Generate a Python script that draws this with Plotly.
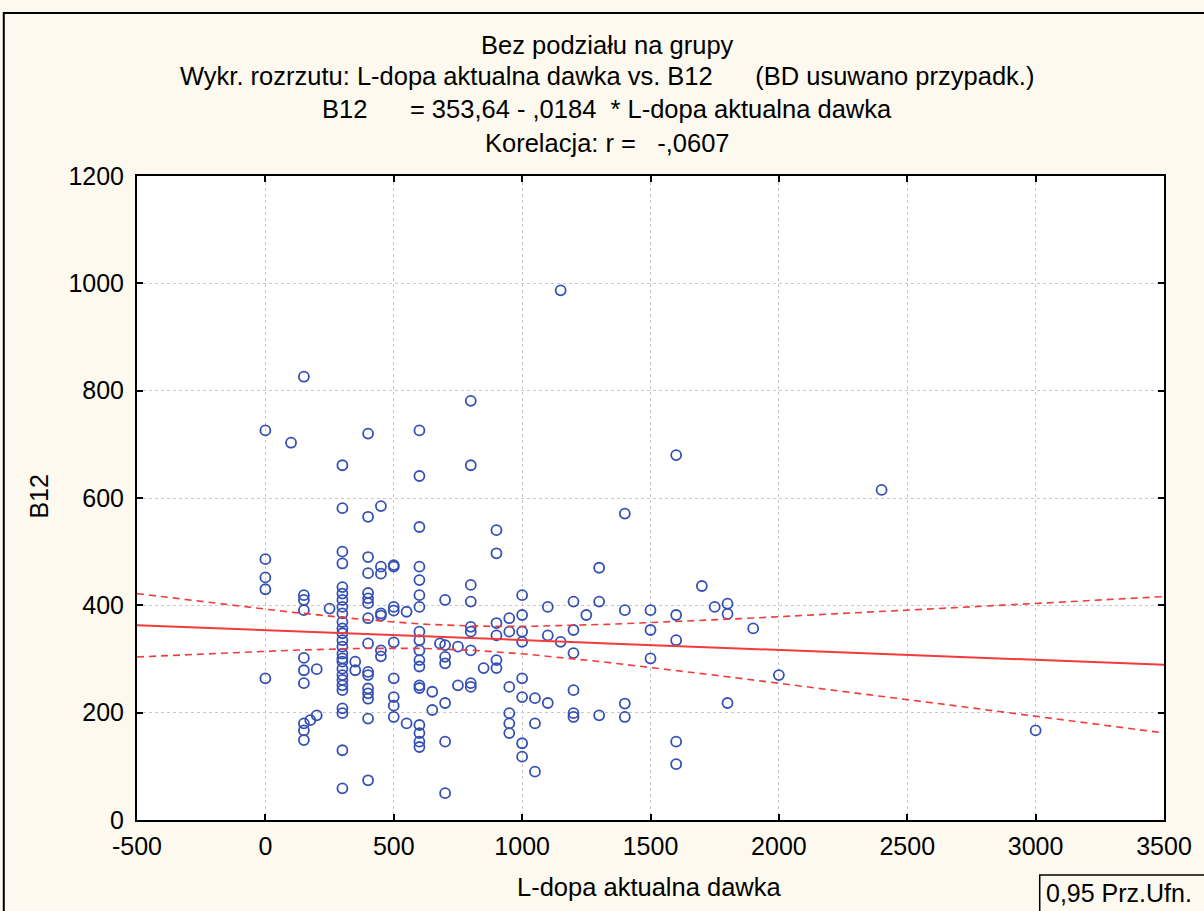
import numpy as np
import plotly.graph_objects as go

# L-dopa current daily dose (mg) and vitamin B12 level, one entry per patient
dose = (
    [0] * 5 + [100] + [150] * 10 + [175] + [200] * 2 + [250] + [300] * 26 + [350] * 2
    + [400] * 16 + [450] * 7 + [500] * 9 + [550] * 2 + [600] * 18 + [650] * 2 + [680]
    + [700] * 7 + [750] * 2 + [800] * 9 + [850] + [900] * 6 + [950] * 6 + [1000] * 8
    + [1050] * 3 + [1100] * 3 + [1150] * 2 + [1200] * 6 + [1250] + [1300] * 3
    + [1400] * 4 + [1500] * 3 + [1600] * 5 + [1700] + [1750] + [1800] * 3 + [1900]
    + [2000] + [2400] + [3000]
)
b12 = [
    726, 486, 452, 430, 264,
    703,
    826, 419, 410, 391, 302, 279, 255, 180, 167, 149,
    186,
    281, 195,
    394,
    661, 581, 500, 478, 434, 422, 410, 397, 385, 369, 357, 348, 335, 323, 310, 301,
    295, 282, 270, 261, 251, 242, 208, 199, 130, 59,
    295, 279,
    720, 565, 490, 460, 423, 413, 404, 376, 329, 276, 270, 245, 236, 226, 189, 74,
    585, 472, 459, 385, 381, 316, 305,
    475, 472, 397, 390, 331, 264, 229, 213, 192,
    388, 180,
    726, 641, 546, 472, 447, 419, 397, 351, 335, 316, 298, 286, 251, 246, 177, 162, 146, 136,
    239, 205,
    329,
    410, 326, 304, 292, 218, 146, 50,
    323, 251,
    781, 661, 438, 407, 360, 351, 316, 255, 248,
    283,
    540, 497, 367, 344, 298, 283,
    376, 351, 248, 199, 180, 162,
    419, 382, 351, 332, 264, 229, 143, 118,
    227, 180, 90,
    397, 344, 218,
    987, 332,
    407, 354, 311, 242, 199, 192,
    382,
    470, 407, 195,
    571, 391, 217, 192,
    391, 354, 301,
    680, 382, 335, 146, 104,
    436,
    397,
    403, 384, 218,
    357,
    270,
    615,
    167,
]

# Fitted regression reported in the header
intercept = 353.64
slope = -0.0184
t_crit = 1.97  # two-sided 95% Student t, large df

x_ticks = [-500, 0, 500, 1000, 1500, 2000, 2500, 3000, 3500]
y_ticks = [0, 200, 400, 600, 800, 1000, 1200]

title_lines = [
    "Bez podziału na grupy",
    "Wykr. rozrzutu: L-dopa aktualna dawka vs. B12\u00a0\u00a0\u00a0\u00a0\u00a0\u00a0(BD usuwano przypadk.)",
    "B12\u00a0\u00a0\u00a0\u00a0\u00a0\u00a0= 353,64 - ,0184 \u00a0* L-dopa aktualna dawka",
    "Korelacja: r =\u00a0\u00a0\u00a0-,0607",
]

# Regression line and 95% confidence band for the mean
xs = np.array(dose, dtype=float)
ys = np.array(b12, dtype=float)
n = len(xs)
resid = ys - (intercept + slope * xs)
s = np.sqrt(np.sum(resid ** 2) / (n - 2))
xbar = xs.mean()
sxx = np.sum((xs - xbar) ** 2)

grid_x = np.linspace(x_ticks[0], x_ticks[-1], 200)
fit = intercept + slope * grid_x
half = t_crit * s * np.sqrt(1.0 / n + (grid_x - xbar) ** 2 / sxx)

FONT = "Liberation Sans, Arial, sans-serif"
RED = "#F23B3B"

fig = go.Figure()
fig.add_trace(go.Scatter(
    x=dose, y=b12, mode="markers",
    marker=dict(symbol="circle-open", size=10, color="#3550B5", line=dict(width=1.8)),
    hoverinfo="x+y", showlegend=False,
))
fig.add_trace(go.Scatter(x=grid_x, y=fit, mode="lines",
                         line=dict(color=RED, width=2), showlegend=False))
for band in (fit + half, fit - half):
    fig.add_trace(go.Scatter(x=grid_x, y=band, mode="lines",
                             line=dict(color=RED, width=1.6, dash="7px,5px"),
                             showlegend=False))

axis_common = dict(
    showline=True, linecolor="black", linewidth=2, mirror="ticks",
    ticks="inside", ticklen=6, tickcolor="black", tickwidth=2,
    showgrid=True, gridcolor="#c8c8c8", griddash="dot", gridwidth=1,
    zeroline=False, tickfont=dict(family=FONT, size=25, color="black"),
)
fig.update_xaxes(range=[x_ticks[0], x_ticks[-1]], tickvals=x_ticks,
                 ticktext=[str(v) for v in x_ticks], ticklabelstandoff=3, **axis_common)
fig.update_yaxes(range=[y_ticks[0], y_ticks[-1]], tickvals=y_ticks,
                 ticktext=[str(v) for v in y_ticks], ticklabelstandoff=6, **axis_common)

# plot area in pixels: x 137..1170, y 176..820
PL, PR, PT, PB = 137, 1170, 176, 820
W, H = 1204, 911


def px_x(p):
    return (p - PL) / (PR - PL)


def px_y(p):
    return (PB - p) / (PB - PT)


annotations = []
for text, yc in zip(title_lines, [45, 76, 109, 143]):
    annotations.append(dict(text=text, xref="paper", yref="paper", x=px_x(610), y=px_y(yc),
                            xanchor="center", yanchor="middle", showarrow=False,
                            font=dict(family=FONT, size=25.5, color="black")))
annotations.append(dict(text="L-dopa aktualna dawka", xref="paper", yref="paper",
                        x=px_x(652), y=px_y(887), xanchor="center", yanchor="middle",
                        showarrow=False, font=dict(family=FONT, size=25.5, color="black")))
annotations.append(dict(text="B12", xref="paper", yref="paper", textangle=-90,
                        x=px_x(38), y=px_y(497), xanchor="center", yanchor="middle",
                        showarrow=False, font=dict(family=FONT, size=25, color="black")))
annotations.append(dict(text="0,95 Prz.Ufn.", xref="paper", yref="paper",
                        x=px_x(1049), y=px_y(893), xanchor="left", yanchor="middle",
                        showarrow=False, font=dict(family=FONT, size=25, color="black")))

shapes = [
    # outer frame of the graph window
    dict(type="rect", xref="paper", yref="paper", x0=px_x(3), x1=px_x(1215),
         y0=px_y(925), y1=px_y(13), line=dict(color="black", width=2)),
    # confidence-level box
    dict(type="rect", xref="paper", yref="paper", x0=px_x(1045), x1=px_x(1215),
         y0=px_y(925), y1=px_y(875), line=dict(color="black", width=1.5)),
]

fig.update_layout(
    width=W, height=H, autosize=False,
    margin=dict(l=PL, r=W - PR, t=PT, b=H - PB, pad=0),
    paper_bgcolor="#FDF9EF", plot_bgcolor="white",
    annotations=annotations, shapes=shapes,
    font=dict(family=FONT),
)

fig.write_html("out.html")
